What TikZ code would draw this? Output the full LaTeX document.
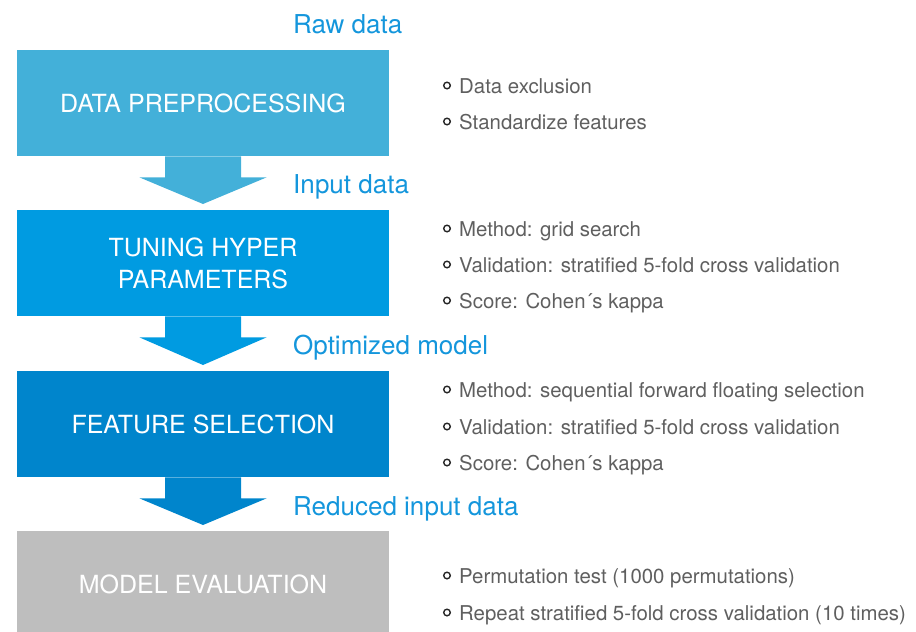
\documentclass[tikz,border=0pt]{standalone}
\usepackage{fontspec}
\setmainfont{TeX Gyre Heros}
\usepackage{tikz}
\usetikzlibrary{calc}
\definecolor{prepblue}{RGB}{67,176,217}
\definecolor{tuneblue}{RGB}{0,155,225}
\definecolor{selblue}{RGB}{0,133,204}
\definecolor{evalgray}{RGB}{190,190,190}
\definecolor{flowblue}{RGB}{20,150,220}
\definecolor{itemgray}{RGB}{95,95,95}
\tikzset{>=latex}

\begin{document}
\begin{tikzpicture}[x=1pt, y=1pt,
    stage/.style={anchor=north, minimum width=372pt, minimum height=106pt, inner sep=0pt,
      text=white, align=center, font=\fontsize{25}{32}\selectfont},
    flow/.style={anchor=base west, inner sep=0pt, text=flowblue, font=\fontsize{26}{30}\selectfont},
    item/.style={anchor=base west, inner sep=0pt, text=itemgray, font=\fontsize{20.4}{24}\selectfont},
    bullet/.style={draw=black!85, line width=1.4pt}]
      \useasboundingbox (0,0) rectangle (916,-632);
      % stages
      \node[stage, fill=prepblue] (prep) at (203,-50) {DATA PREPROCESSING};
      \node[stage, fill=tuneblue] (tune) at (203,-210) {TUNING HYPER\\PARAMETERS};
      \node[stage, fill=selblue] (select) at (203,-371) {FEATURE SELECTION};
      \node[stage, fill=evalgray] (eval) at (203,-531) {MODEL EVALUATION};
      % block arrows between stages
      \foreach \a/\b/\c in {prep/tune/prepblue, tune/select/tuneblue, select/eval/selblue}
        \fill[\c] ([xshift=-38]\a.south) -- ([xshift=38]\a.south)
          -- ([xshift=38,yshift=-21]\a.south) -- ([xshift=63.5,yshift=-21]\a.south)
          -- ([yshift=6]\b.north)
          -- ([xshift=-63.5,yshift=-21]\a.south) -- ([xshift=-38,yshift=-21]\a.south) -- cycle;
      % data labels
      \node[flow] (raw) at (293,-33) {Raw data};
      \node[flow] (input) at (293,-193) {Input data};
      \node[flow] (optim) at (293,-354) {Optimized model};
      \node[flow] (reduced) at (293,-515) {Reduced input data};
      % items
      \foreach \y/\t [count=\i] in {93/Data exclusion, 129/Standardize features,
          236/Method: grid search, 272/Validation: stratified 5-fold cross validation,
          308/Score: Cohen´s kappa,
          397/Method: sequential forward floating selection,
          434/Validation: stratified 5-fold cross validation, 470/Score: Cohen´s kappa,
          583/Permutation test (1000 permutations),
          620/Repeat stratified 5-fold cross validation (10 times)}
      {
        \node[item] (item\i) at (459,-\y) {\t};
        \draw[bullet] ([xshift=-12,yshift=7.5]item\i.base west) circle (3.3);
      }
\end{tikzpicture}
\end{document}
